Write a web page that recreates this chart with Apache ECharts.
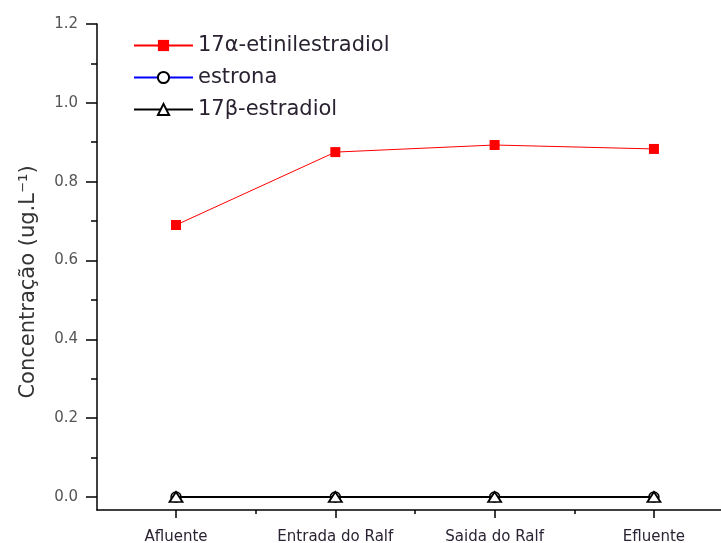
<!DOCTYPE html>
<html>
<head>
<meta charset="utf-8">
<script src="https://cdn.jsdelivr.net/npm/echarts@6/dist/echarts.min.js"></script>
<style>
html,body{margin:0;padding:0;background:#fff;}
#chart{width:721px;height:543px;}
</style>
</head>
<body>
<div id="chart"></div>
<script>
const categories = ['Afluente', 'Entrada do Ralf', 'Saida do Ralf', 'Efluente'];
const etinilestradiol = [0.69, 0.875, 0.893, 0.883];
const estrona = [0, 0, 0, 0];
const estradiol = [0, 0, 0, 0];
const yMajorTicks = [0, 0.2, 0.4, 0.6, 0.8, 1.0, 1.2];
const yMinorTicks = [0.1, 0.3, 0.5, 0.7, 0.9, 1.1];
const xMajorTicks = [0, 1, 2, 3];
const xMinorTicks = [0.5, 1.5, 2.5];
const seriesNames = ['17\u03b1-etinilestradiol', 'estrona', '17\u03b2-estradiol'];

const toPairs = arr => arr.map((v, i) => [i, v]);

const chart = echarts.init(document.getElementById('chart'));
const font = 'DejaVu Sans';
const xMin = -0.496, xMax = 3.421;
chart.setOption({
  backgroundColor: '#fff',
  animation: false,
  grid: { left: 97, right: 0, top: 24, bottom: 33, containLabel: false, outerBoundsMode: 'none' },
  legend: {
    left: 128, top: 30, orient: 'vertical',
    itemWidth: 59, itemHeight: 14, itemGap: 11,
    textStyle: { fontFamily: font, fontSize: 21, color: '#2a2230' },
    data: seriesNames
  },
  xAxis: [{
    type: 'value', min: xMin, max: xMax, position: 'bottom',
    axisLine: { show: true, onZero: false, lineStyle: { color: '#000', width: 1.5 } },
    axisTick: { show: true, length: 8, customValues: xMajorTicks, lineStyle: { color: '#000', width: 1.5 } },
    axisLabel: { margin: 20, fontFamily: font, fontSize: 15, color: '#2b2333', customValues: xMajorTicks,
      formatter: v => categories[Math.round(v)] || '' },
    splitLine: { show: false }
  }, {
    type: 'value', min: xMin, max: xMax, position: 'bottom',
    axisLine: { show: false, onZero: false },
    axisTick: { show: true, length: 4, customValues: xMinorTicks, lineStyle: { color: '#000', width: 1.5 } },
    axisLabel: { show: false },
    splitLine: { show: false }
  }],
  yAxis: [{
    type: 'value', min: -0.033, max: 1.2, position: 'left',
    name: 'Concentra\u00e7\u00e3o (ug.L\u207b\u00b9)', nameLocation: 'middle', nameGap: 58,
    nameTextStyle: { fontFamily: font, fontSize: 21, color: '#333', padding: [0, 30, 0, 0] },
    axisLine: { show: true, onZero: false, lineStyle: { color: '#000', width: 1.5 } },
    axisTick: { show: true, length: 11, customValues: yMajorTicks, lineStyle: { color: '#000', width: 1.5 } },
    axisLabel: { margin: 19, fontFamily: font, fontSize: 15, color: '#555', customValues: yMajorTicks,
      formatter: v => v.toFixed(1) },
    splitLine: { show: false }
  }, {
    type: 'value', min: -0.033, max: 1.2, position: 'left',
    axisLine: { show: false, onZero: false },
    axisTick: { show: true, length: 6, customValues: yMinorTicks, lineStyle: { color: '#000', width: 1.5 } },
    axisLabel: { show: false },
    splitLine: { show: false }
  }],
  series: [{
    name: seriesNames[0], type: 'line', data: toPairs(etinilestradiol),
    symbol: 'rect', symbolSize: 10,
    lineStyle: { color: '#ff0000', width: 1 },
    itemStyle: { color: '#ff0000' },
    z: 3
  }, {
    name: seriesNames[1], type: 'line', data: toPairs(estrona),
    symbol: 'circle', symbolSize: 10,
    lineStyle: { color: '#0000ff', width: 1 },
    itemStyle: { color: '#fff', borderColor: '#000', borderWidth: 1.5 },
    z: 4
  }, {
    name: seriesNames[2], type: 'line', data: toPairs(estradiol),
    symbol: 'triangle', symbolSize: [13, 10],
    lineStyle: { color: '#000', width: 2 },
    itemStyle: { color: '#fff', borderColor: '#000', borderWidth: 1.8 },
    z: 5
  }]
});
</script>
</body>
</html>
